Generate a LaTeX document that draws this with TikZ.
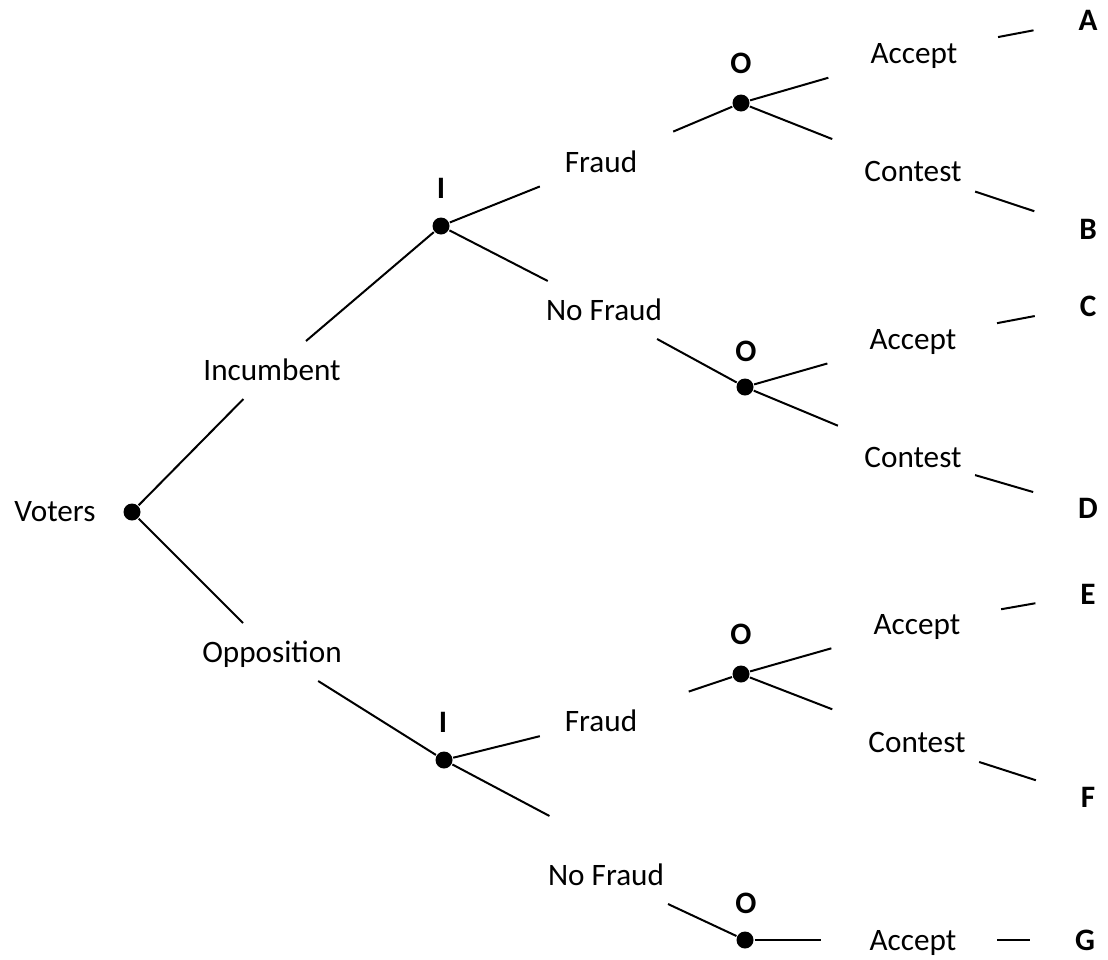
\documentclass[tikz,border=0pt]{standalone}
\usepackage{fontspec}
\setmainfont{Carlito}
\usepackage{tikz}

\newcommand{\treefont}{\fontsize{15.6}{18}\selectfont}

\tikzset{
  dot/.style={circle, fill=black, inner sep=0pt, minimum size=8.5pt},
  move/.style={inner xsep=12pt, inner ysep=0pt, minimum height=28pt,
               text height=10pt, text depth=0pt},
  payoff/.style={font=\treefont\bfseries, inner xsep=22pt, inner ysep=0pt,
                 minimum height=28pt, text height=10pt, text depth=0pt},
  player/.style={font=\treefont\bfseries, text height=10pt, text depth=0pt},
  tostub/.style={shorten <=8pt},
  costub/.style={shorten <=-6pt}
}

\begin{document}
\begin{tikzpicture}[x=0.5pt, y=-0.5pt, line width=1pt, font=\treefont]
\useasboundingbox (0,0) rectangle (1108,959);

% Voters
\node[dot] (v) at (132,512) {};
\node (vlab) at (55,512) {Voters};
\node[move] (inc) at (272,370) {Incumbent};
\node[move] (opp) at (272,652) {Opposition};

% Incumbent's moves
\node[dot] (i1) at (441,226) {};
\node[player] (i1lab) at (441,188) {I};
\node[dot] (i2) at (444,760) {};
\node[player] (i2lab) at (443,722) {I};
\node[move] (fr1) at (601,162) {Fraud};
\node[move] (nf1) at (604,310) {No Fraud};
\node[move] (fr2) at (601,721) {Fraud};
\node[move] (nf2) at (606,875) {No Fraud};

% Opposition's moves
\node[dot] (o1) at (741,103) {};
\node[player] (o1lab) at (741,63) {O};
\node[dot] (o2) at (745,387) {};
\node[player] (o2lab) at (746,351) {O};
\node[dot] (o3) at (741,674) {};
\node[player] (o3lab) at (741,634) {O};
\node[dot] (o4) at (745,940) {};
\node[player] (o4lab) at (746,903) {O};

\node[move] (ac1) at (914,53) {Accept};
\node[move] (co1) at (913,171) {Contest};
\node[move] (ac2) at (913,339) {Accept};
\node[move] (co2) at (913,457) {Contest};
\node[move] (ac3) at (917,624) {Accept};
\node[move] (co3) at (917,742) {Contest};
\node[move] (ac4) at (913,940) {Accept};

% Outcomes
\node[payoff] (pA) at (1088,20) {A};
\node[payoff] (pB) at (1088,229) {B};
\node[payoff] (pC) at (1088,306) {C};
\node[payoff] (pD) at (1088,508) {D};
\node[payoff] (pE) at (1088,594) {E};
\node[payoff] (pF) at (1088,797) {F};
\node[payoff] (pG) at (1085,940) {G};

% Branches
\draw (v) -- (inc) -- (i1);
\draw (v) -- (opp) -- (i2);
\draw (i1) -- (fr1);
\draw[shorten <=6pt] (fr1) -- (o1);
\draw (i1) -- (nf1) -- (o2);
\draw (i2) -- (fr2);
\draw[shorten <=14pt] (fr2) -- (o3);
\draw[shorten >=32pt] (i2) -- (nf2.north);
\draw (nf2) -- (o4);

\draw[shorten >=9pt] (o1) -- (ac1);
\draw[shorten >=4pt] (o1) -- (co1);
\draw[shorten >=9pt] (o2) -- (ac2);
\draw[shorten >=3pt] (o2) -- (co2);
\draw[shorten >=9pt] (o3) -- (ac3);
\draw[shorten >=6pt] (o3) -- (co3);
\draw[shorten >=12pt] (o4) -- (ac4);

\draw[tostub] (ac1) -- (pA);
\draw[costub] (co1) -- (pB);
\draw[tostub] (ac2) -- (pC);
\draw[costub] (co2) -- (pD);
\draw[tostub] (ac3) -- (pE);
\draw[costub] (co3) -- (pF);
\draw[tostub] (ac4) -- (pG);

\end{tikzpicture}
\end{document}
